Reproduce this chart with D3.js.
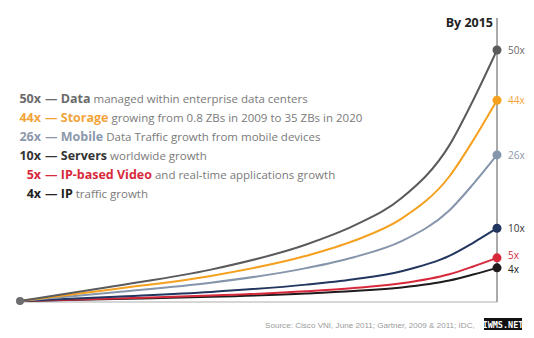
<!DOCTYPE html>
<html>
<head>
<meta charset="utf-8">
<script src="https://cdn.jsdelivr.net/npm/d3@7/dist/d3.min.js"></script>
<style>
  body { margin: 0; background: #fff; }
  svg { display: block; font-family: "Open Sans", "DejaVu Sans", sans-serif; }
</style>
</head>
<body>
<div id="chart"></div>
<script>
// series, top to bottom
var names = ['Data', 'Storage', 'Mobile', 'Servers', 'IP-based Video', 'IP'];
var multipliers = [50, 44, 26, 10, 5, 4];
var rests = [
  'managed within enterprise data centers',
  'growing from 0.8 ZBs in 2009 to 35 ZBs in 2020',
  'Data Traffic growth from mobile devices',
  'worldwide growth',
  'and real-time applications growth',
  'traffic growth'
];
// where each curve ends on the drawn axis (read off the picture, not to scale)
var plotLevels = [50, 40, 29.1, 14.5, 8.6, 6.6];
var colors = ['#5b5b5d', '#f5a01e', '#8595ab', '#22365f', '#d8293c', '#1f1b1c'];
var labelColors = ['#6a6a6a', '#f2a43a', '#8b98ab', '#333', '#d8293c', '#222'];

// shape of the growth curve (fraction of time -> fraction of final level)
var profileT = [0, 0.2, 0.4, 0.6, 0.7, 0.8, 0.9, 0.95, 1];
var profileF = [0, 0.06, 0.125, 0.225, 0.30, 0.41, 0.62, 0.80, 1];

var W = 534, H = 338;
var svg = d3.select('#chart').append('svg')
  .attr('width', W)
  .attr('height', H);

var x = d3.scaleLinear().domain([0, 1]).range([20, 497]);
var y = d3.scaleLinear().domain([0, 50]).range([301, 50]);

// frame: baseline + 2015 axis
svg.append('line')
  .attr('x1', x(0)).attr('x2', x(1))
  .attr('y1', y(0) + 1).attr('y2', y(0) + 1)
  .attr('stroke', '#c8c8c8').attr('stroke-width', 1.5);
svg.append('line')
  .attr('x1', x(1)).attr('x2', x(1))
  .attr('y1', 18).attr('y2', y(0) + 1)
  .attr('stroke', '#aaa').attr('stroke-width', 2);

svg.append('text')
  .attr('x', x(1) - 4).attr('y', 27)
  .attr('text-anchor', 'end')
  .attr('font-size', 12.5).attr('font-weight', 'bold')
  .attr('fill', '#222')
  .text('By 2015');

var line = d3.line()
  .x(function(d) { return x(d[0]); })
  .y(function(d) { return y(d[1]); })
  .curve(d3.curveMonotoneX);

var series = multipliers.map(function(m, i) {
  return {
    m: m, name: names[i], rest: rests[i], level: plotLevels[i],
    color: colors[i], lc: labelColors[i],
    pts: profileT.map(function(t, j) { return [t, profileF[j] * plotLevels[i]]; })
  };
});

// draw the lower ones last so they sit on top, like the original
svg.selectAll('.curve')
  .data(series.slice().reverse())
  .enter().append('path')
  .attr('class', 'curve')
  .attr('d', function(d) { return line(d.pts); })
  .attr('fill', 'none')
  .attr('stroke', function(d) { return d.color; })
  .attr('stroke-width', 2);

// start dot
svg.append('circle')
  .attr('cx', x(0)).attr('cy', y(0))
  .attr('r', 4).attr('fill', '#6d6d6f');

// end dots + labels
svg.selectAll('.enddot')
  .data(series)
  .enter().append('circle')
  .attr('class', 'enddot')
  .attr('cx', x(1))
  .attr('cy', function(d) { return y(d.level); })
  .attr('r', 4.5)
  .attr('fill', function(d) { return d.color; });

// 5x and 4x sit very close, nudge them apart a bit
var labNudge = [4, 4, 4, 4, 1.5, 5.5];
svg.selectAll('.endlab')
  .data(series)
  .enter().append('text')
  .attr('class', 'endlab')
  .attr('x', x(1) + 11)
  .attr('y', function(d, i) { return y(d.level) + labNudge[i]; })
  .attr('font-size', 10)
  .attr('fill', function(d) { return d.lc; })
  .text(function(d) { return d.m + 'x'; });

// legend text block
var leg = svg.selectAll('.leg')
  .data(series)
  .enter().append('g')
  .attr('class', 'leg')
  .attr('transform', function(d, i) { return 'translate(0,' + (103 + i * 19) + ')'; });

leg.append('text')
  .attr('x', 41)
  .attr('text-anchor', 'end')
  .attr('font-size', 12.5).attr('font-weight', 'bold')
  .attr('fill', function(d) { return d.lc; })
  .text(function(d) { return d.m + 'x'; });

var t = leg.append('text')
  .attr('x', 45)
  .attr('font-size', 12.5);
t.append('tspan')
  .attr('font-weight', 'bold')
  .attr('fill', function(d) { return d.lc; })
  .text(function(d) { return '\u2014 ' + d.name; });
t.append('tspan')
  .attr('fill', '#7a7a7a')
  .attr('font-size', 11.5)
  .text(function(d) { return ' ' + d.rest; });

// source note (the rest is hidden under the tag in the original)
svg.append('text')
  .attr('x', 265).attr('y', 328)
  .attr('font-family', 'Liberation Sans, Arial, sans-serif')
  .attr('font-size', 8.1)
  .attr('fill', '#9a9a9a')
  .text('Source: Cisco VNI, June 2011; Gartner, 2009 & 2011; IDC,');

// watermark tag
svg.append('rect')
  .attr('x', 484).attr('y', 318).attr('width', 38).attr('height', 12)
  .attr('fill', '#111');
svg.append('text')
  .attr('x', 503).attr('y', 327.5)
  .attr('text-anchor', 'middle')
  .attr('font-family', 'DejaVu Sans Mono, monospace')
  .attr('font-size', 8.5).attr('font-weight', 'bold')
  .attr('fill', '#fff')
  .text('IWMS.NET');
</script>
</body>
</html>
